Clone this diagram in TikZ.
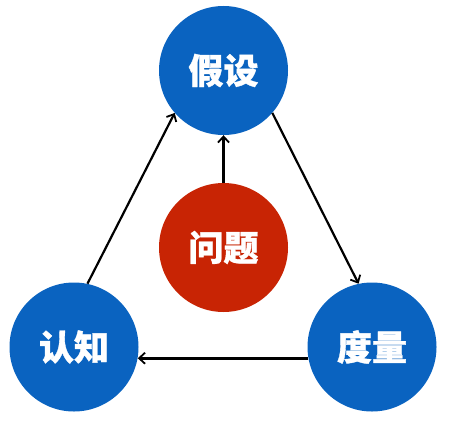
\documentclass[tikz,border=0pt]{standalone}
\usepackage{fontspec}
\newfontfamily\cjk{Noto Sans CJK SC}[BoldFeatures={FakeBold=1}]
\usetikzlibrary{arrows.meta}
\definecolor{cblue}{RGB}{10,99,192}
\definecolor{cred}{RGB}{200,36,4}
\begin{document}
\begin{tikzpicture}[x=1pt,y=-1pt,
  ball/.style={circle,minimum size=129pt,inner sep=0pt,text=white,font=\cjk\bfseries\fontsize{35}{38}\selectfont},
  bluec/.style={ball,fill=cblue},
  redc/.style={ball,fill=cred},
  arr/.style={draw=black,line width=2.2pt,-{Straight Barb[length=6pt,width=11pt,line width=1.8pt]}}]
\useasboundingbox (0,0) rectangle (449,420);
\node[bluec] (top) at (223.5,70.5) {假设};
\node[redc] (mid) at (223.5,247.5) {问题};
\node[bluec] (left) at (74,347) {认知};
\node[bluec] (right) at (372,347) {度量};
\draw[arr] (mid.north) -- (top.south);
\draw[arr] (left.78) -- (top.-139);
\draw[arr] (top.-41) -- (right.102);
\draw[arr,line width=3.2pt] (right.190) -- (left.-10);
\end{tikzpicture}
\end{document}
